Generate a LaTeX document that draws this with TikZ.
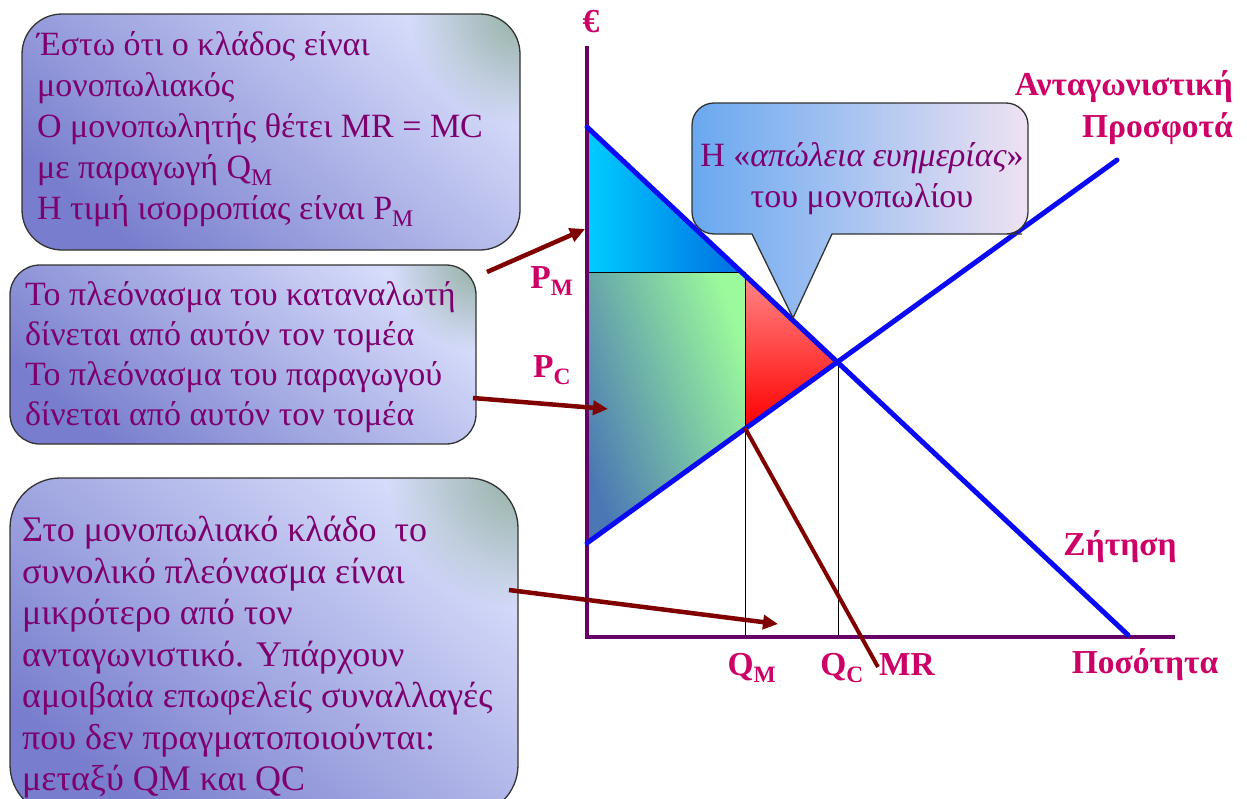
\documentclass[tikz,border=0pt]{standalone}
\usepackage{fontspec}
\setmainfont{Liberation Serif}
\usetikzlibrary{arrows.meta,fadings}
\definecolor{axiscol}{RGB}{102,0,102}
\definecolor{linecol}{RGB}{10,10,245}
\definecolor{labcol}{RGB}{204,0,102}
\definecolor{txtcol}{RGB}{125,0,110}
\definecolor{arrcol}{RGB}{128,0,0}
\definecolor{boxlight}{RGB}{214,220,250}
\definecolor{boxmid}{RGB}{200,206,246}
\definecolor{boxdark}{RGB}{120,126,205}
\definecolor{boxtint}{RGB}{150,178,165}
\tikzfading[name=softglow, inner color=transparent!0, outer color=transparent!100]
\begin{document}
\begin{tikzpicture}[x=1pt,y=-1pt,
  boxshape/.style={rounded corners=#1,
     bottom color=boxdark, middle color=boxmid, top color=boxlight, shading angle=-40},
  boxline/.style={draw=black!80, line width=1.3pt, rounded corners=#1},
  glow/.style={fill=boxtint, path fading=softglow},
  boxtext/.style={anchor=north west, inner sep=0pt, align=left, text=txtcol,
     font=\fontsize{34}{41}\selectfont},
  lab/.style={text=labcol, inner sep=0pt, font=\fontsize{33.5}{36}\selectfont\bfseries},
  curve/.style={draw=linecol, line width=5pt, line cap=round},
  thin/.style={draw=black, line width=1pt},
  pointer/.style={draw=arrcol, line width=4.5pt, -{Triangle[length=15pt,width=14pt]}}
]
\useasboundingbox (0,0) rectangle (1247,798);

% ---------- areas
\shade[left color={rgb,255:red,0;green,205;blue,255}, right color={rgb,255:red,0;green,110;blue,225}]
  (587,127) -- (741,272) -- (587,272) -- cycle;
\shade[top color={rgb,255:red,155;green,250;blue,155}, bottom color={rgb,255:red,75;green,120;blue,180}, shading angle=-70]
  (587,272) -- (745,272) -- (745,428) -- (587,543) -- cycle;
\shade[top color={rgb,255:red,255;green,135;blue,135}, bottom color={rgb,255:red,255;green,0;blue,0}]
  (745,275) -- (838,362) -- (745,428) -- cycle;

% ---------- thin guide lines
\coordinate (pm0) at (587,272);
\coordinate (pm1) at (745,272);
\coordinate (qm0) at (745,637);
\coordinate (qc1) at (838,362);
\coordinate (qc0) at (838,637);
\draw[thin] (pm0) -- (pm1) -- (qm0);
\draw[thin] (qc1) -- (qc0);

% ---------- axes
\coordinate (ytop) at (587,46);
\coordinate (orig) at (587,637);
\coordinate (xend) at (1175,637);
\draw[draw=axiscol, line width=4.5pt] (ytop) -- (orig) -- (xend);

% ---------- curves
\coordinate (d0) at (587,127);
\coordinate (d1) at (1128,635);
\coordinate (s0) at (587,543);
\coordinate (s1) at (1117,160);
\coordinate (mr0) at (745,428);
\coordinate (mr1) at (878,667);
\draw[curve] (d0) -- (d1);
\draw[curve] (s0) -- (s1);
\draw[draw=arrcol, line width=4pt] (mr0) -- (mr1);

% ---------- axis labels
\node[lab] (euro) at (591,22) {€};
\node[lab] (pmlab) at (552,281) {P\textsubscript{M}};
\node[lab] (pclab) at (552,370) {P\textsubscript{C}};
\node[lab] (qmlab) at (752,668) {Q\textsubscript{M}};
\node[lab] (qclab) at (842,668) {Q\textsubscript{C}};
\node[lab] (mrlab) at (907,665) {MR};
\node[lab] (qlab) at (1145,665) {Ποσότητα};
\node[lab] (dlab) at (1120,547) {Ζήτηση};
\node[lab, anchor=north east, align=right, font=\fontsize{33.5}{42}\selectfont\bfseries] (slab) at (1233,70) {Ανταγωνιστική\\Προσφοτά};

% ---------- callout
\shade[draw=black!80, line width=1.3pt, left color={rgb,255:red,105;green,168;blue,240}, right color={rgb,255:red,238;green,226;blue,242}]
  (860,103) [rounded corners=22pt] -- (1028,103) -- (1028,234) -- (1000,234)
  [sharp corners] -- (832,234) -- (793,318) -- (752,234) -- (720,234)
  [rounded corners=22pt] -- (692,234) -- (692,103) -- cycle;
\node[text=txtcol, align=center, inner sep=0pt, font=\fontsize{34}{41}\selectfont] (calltext) at (862,179)
  {Η «\textit{απώλεια ευημερίας}»\\του μονοπωλίου};

% ---------- text boxes
\shade[boxshape=40pt] (22,14) rectangle (520,250);
\begin{scope}
  \clip[rounded corners=40pt] (22,14) rectangle (520,250);
  \fill[glow] (520,14) circle (110);
\end{scope}
\draw[boxline=40pt] (22,14) rectangle (520,250);
\node[boxtext] (t1) at (37,31) {Έστω ότι ο κλάδος είναι\\μονοπωλιακός\\Ο μονοπωλητής θέτει MR = MC\\με παραγωγή Q\textsubscript{M}\\Η τιμή ισορροπίας είναι P\textsubscript{M}};

\shade[boxshape=30pt] (10,265) rectangle (476,444);
\begin{scope}
  \clip[rounded corners=30pt] (10,265) rectangle (476,444);
  \fill[glow] (476,265) circle (85);
\end{scope}
\draw[boxline=30pt] (10,265) rectangle (476,444);
\node[boxtext, font=\fontsize{34}{40}\selectfont] (t2) at (25,281) {Το πλεόνασμα του καταναλωτή\\δίνεται από αυτόν τον τομέα\\Το πλεόνασμα του παραγωγού\\δίνεται από αυτόν τον τομέα};

\shade[boxshape=50pt] (10,478) rectangle (518,815);
\begin{scope}
  \clip[rounded corners=50pt] (10,478) rectangle (518,815);
  \fill[glow] (518,478) circle (130);
\end{scope}
\draw[boxline=50pt] (10,478) rectangle (518,815);
\node[boxtext, font=\fontsize{36}{41.5}\selectfont] (t3) at (22,516) {Στο μονοπωλιακό κλάδο \ το\\συνολικό πλεόνασμα είναι\\μικρότερο από τον\\ανταγωνιστικό. Υπάρχουν\\αμοιβαία επωφελείς συναλλαγές\\που δεν πραγματοποιούνται:\\μεταξύ QM και QC};

% ---------- pointers
\coordinate (a1s) at (487,272);
\coordinate (a1e) at (585,229);
\coordinate (a2s) at (473,398);
\coordinate (a2e) at (608,409);
\coordinate (a3s) at (509,590);
\coordinate (a3e) at (778,624);
\draw[pointer] (a1s) -- (a1e);
\draw[pointer] (a2s) -- (a2e);
\draw[pointer] (a3s) -- (a3e);
\end{tikzpicture}
\end{document}
